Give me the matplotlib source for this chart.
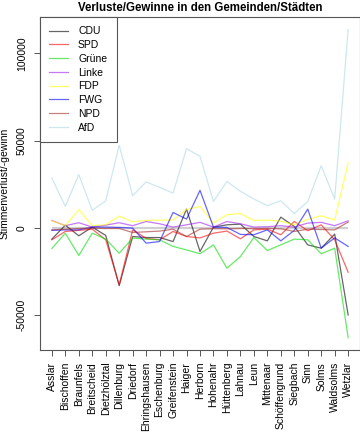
import numpy as np
import matplotlib.pyplot as plt

plt.rcParams['font.family'] = ['Liberation Sans', 'DejaVu Sans']

gemeinden = ["Asslar", "Bischoffen", "Braunfels", "Breitscheid", "Dietzhölztal",
             "Dillenburg", "Driedorf", "Ehringshausen", "Eschenburg", "Greifenstein",
             "Haiger", "Herborn", "Hohenahr", "Hüttenberg", "Lahnau", "Leun",
             "Mittenaar", "Schöffengrund", "Siegbach", "Sinn", "Solms",
             "Waldsolms", "Wetzlar"]

cdu = [-6500, 1500, -4600, 400, -4400, -33200, -5000, -5600, -5600, -7900, 10700,
       -13600, 400, 1700, 2100, -5000, -7500, 6100, 800, -9800, -11700, -3600, -50000]
spd = [-6900, -2100, -1500, -800, -6900, -32800, -1200, -6100, -6900, -2100, -5000,
       -5800, -3100, -1900, -6300, -1200, -800, -4000, 3600, -1700, 1700, -6900, -25500]
gruene = [-11900, -3100, -15900, -3100, -6500, -14600, -5900, -6500, -6900, -10700, -12700,
          -14900, -9800, -23200, -16500, -5600, -13000, -9800, -6500, -6900, -14900, -11700, -63000]
linke = [4200, 1200, 2900, 400, 1500, 2900, 1200, 3600, 2300, 400, 1700,
         3100, 400, 3600, 2300, 400, 600, 1200, 400, 2700, 3100, 1200, 4000]
fdp = [4000, 1200, 10400, 1300, 1700, 6700, 3500, 4200, 4400, 4400, 10500,
       12300, 2700, 7500, 8200, 4200, 4400, 3800, 1700, 4800, 6900, 4400, 37200]
fwg = [-1500, -1200, -1200, 400, 400, 200, -200, -8800, -7900, 8800, 5000,
       21500, 400, 200, -3800, -4000, -1200, -7500, -1500, 10700, -11700, -5800, -10700]
npd = [-1200, -800, -400, -200, -400, -400, -2700, -2300, -1900, -800, -5000,
       -800, -500, -600, -400, -500, -400, -600, -2100, -800, -1000, -1200, 3300]
afd = [28500, 12300, 30500, 10000, 15500, 47300, 18400, 26300, 23200, 19900, 45400,
       41000, 15100, 26600, 20900, 16500, 12700, 15500, 8100, 15100, 35600, 16500, 113800]

parteien = ["CDU", "SPD", "Grüne", "Linke", "FDP", "FWG", "NPD", "AfD"]
farben = ["black", "red", "#00dd00", "#a020f0", "yellow", "blue", "#a52a2a", "lightblue"]
werte = [cdu, spd, gruene, linke, fdp, fwg, npd, afd]

fig = plt.figure(figsize=(3.6, 4.33), dpi=100)
ax = fig.add_axes([40 / 360, 83 / 433, 320 / 360, 333 / 433])

x = np.arange(len(gemeinden))
# zero line over the data range
ax.hlines(0, x[0], x[-1], color="#d0d0d0", linewidth=1.6, zorder=1)

for name, col, vals in zip(parteien, farben, werte):
    ax.plot(x, vals, color=col, alpha=0.6, linewidth=0.9, label=name, zorder=2)

ax.set_xlim(-0.88, len(gemeinden) - 1 + 0.88)
ax.set_ylim(-70100, 120900)

ax.set_xticks(x)
ax.set_xticklabels(gemeinden, rotation=90, fontsize=7.5)
ax.set_yticks([-50000, 0, 50000, 100000])
ax.set_yticklabels(["-50000", "0", "50000", "100000"], rotation=90, va="center", fontsize=7.5)
ax.tick_params(axis="both", direction="out", length=4.5, width=0.7, color="#555555")
ax.tick_params(axis="y", pad=5)
ax.tick_params(axis="x", pad=4)

for sp in ax.spines.values():
    sp.set_color("#555555")
    sp.set_linewidth(0.8)

ax.set_ylabel("Stimmenverlust/-gewinn", fontsize=7.5)
ax.yaxis.set_label_coords(-0.096, 0.5)
fig.suptitle("Verluste/Gewinne in den Gemeinden/Städten", fontsize=8.3,
             fontweight="bold", x=200 / 360, y=1 - 8 / 433, va="center")

leg = ax.legend(loc="upper left", bbox_to_anchor=(0, 1), borderaxespad=0,
                fancybox=False, fontsize=7.5, handlelength=1.75, handletextpad=1.0,
                labelspacing=0.36, borderpad=0.9, framealpha=1)
leg.get_frame().set_edgecolor("#555555")
leg.get_frame().set_linewidth(0.8)

plt.savefig("out.png", dpi=100)
